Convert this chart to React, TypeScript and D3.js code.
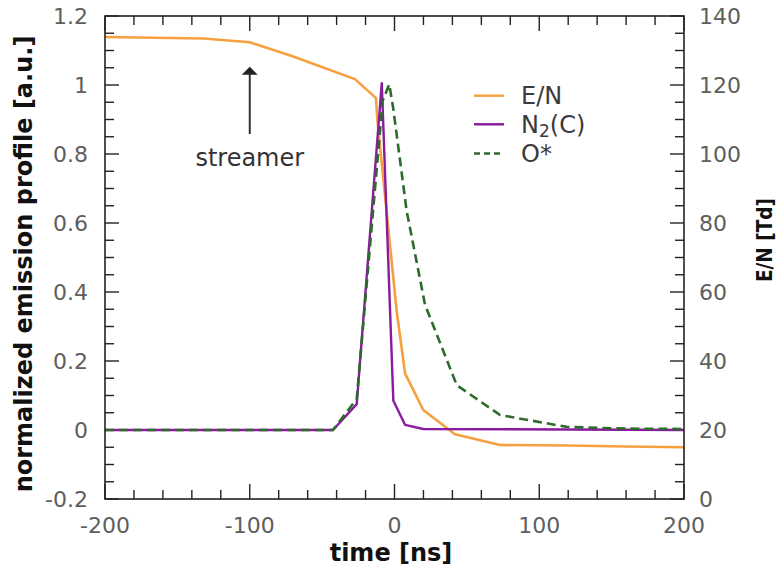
import * as d3 from 'd3';
import * as React from 'react';

// E/N (right axis, Td)
const timeEN = [-200, -132, -100, -71, -27.3, -12.8, -11.9, 1.5, 7.3, 19.9, 41.8, 72.9, 119, 160, 200];
const valEN = [133.9, 133.5, 132.4, 128.4, 121.7, 116.2, 110.1, 54.5, 36.4, 25.8, 18.75, 15.65, 15.5, 15.2, 15.0];

// N2(C) (left axis, normalized)
const timeN2 = [-200, -42.5, -26.1, -8.8, -0.8, 7.3, 19.9, 200];
const valN2 = [0, 0, 0.075, 1.005, 0.085, 0.015, 0.003, 0];

// O* (left axis, normalized)
const timeO = [-200, -42.5, -26.1, -8.2, -3.6, -0.8, 8.4, 21.1, 43, 72.9, 119, 160, 200];
const valO = [0, 0, 0.09, 0.954, 1.002, 0.93, 0.635, 0.363, 0.13, 0.0435, 0.009, 0.004, 0.003];

const xTicks = d3.range(-10, 11).map((i) => i * 20);
const leftTicks = d3.range(-4, 25).map((i) => +(i * 0.05).toFixed(2));
const rightTicks = d3.range(0, 29).map((i) => i * 5);

const legendItems = ['E/N', 'N2(C)', 'O*'];

const W = 778;
const H = 570;
const margin = { top: 16, right: 94, bottom: 71, left: 105 };

const ORANGE = '#f6a03e';
const PURPLE = '#8a1a9e';
const GREEN = '#2e6a2e';
const TICK_FONT = '"DejaVu Sans", sans-serif';

const App = () => {
  const x = d3.scaleLinear().domain([-200, 200]).range([margin.left, W - margin.right]);
  const yL = d3.scaleLinear().domain([-0.2, 1.2]).range([H - margin.bottom, margin.top]);
  const yR = d3.scaleLinear().domain([0, 140]).range([H - margin.bottom, margin.top]);

  const x0 = margin.left;
  const x1 = W - margin.right;
  const y0 = H - margin.bottom;
  const y1 = margin.top;

  const lineEN = d3.line<number>().x((d, i) => x(timeEN[i])).y((d) => yR(d));
  const lineN2 = d3.line<number>().x((d, i) => x(timeN2[i])).y((d) => yL(d));
  const lineO = d3.line<number>().x((d, i) => x(timeO[i])).y((d) => yL(d));

  // streamer arrow, in data coords
  const arrowX = x(-100);
  const arrowBase = yL(0.858);
  const arrowTip = yL(1.053);

  const legendY = [95.7, 124.3, 153.5];
  const legendColors = [ORANGE, PURPLE, GREEN];

  return (
    <svg width={W} height={H} style={{ position: 'absolute', left: 0, top: 0, background: '#fff' }}>
      <rect x={0} y={0} width={W} height={H} fill="#fff" />

      {/* ticks */}
      <g stroke="#222" strokeWidth={1.4}>
        {xTicks.map((t) => {
          const len = t % 100 === 0 ? 15 : 9;
          return (
            <g key={'x' + t}>
              <line x1={x(t)} x2={x(t)} y1={y0} y2={y0 - len} />
              <line x1={x(t)} x2={x(t)} y1={y1} y2={y1 + len} />
            </g>
          );
        })}
        {leftTicks.map((v, i) => {
          const len = i % 4 === 0 ? 14 : 9;
          return <line key={'l' + i} x1={x0} x2={x0 + len} y1={yL(v)} y2={yL(v)} />;
        })}
        {rightTicks.map((v) => {
          const len = v % 20 === 0 ? 14 : 9;
          return <line key={'r' + v} x1={x1} x2={x1 - len} y1={yR(v)} y2={yR(v)} />;
        })}
      </g>

      {/* data */}
      <path d={lineEN(valEN) || ''} fill="none" stroke={ORANGE} strokeWidth={2.6} strokeLinejoin="round" />
      <path d={lineN2(valN2) || ''} fill="none" stroke={PURPLE} strokeWidth={2.4} strokeLinejoin="round" />
      <path d={lineO(valO) || ''} fill="none" stroke={GREEN} strokeWidth={2.6} strokeDasharray="9,5" strokeLinejoin="round" />

      {/* frame */}
      <rect x={x0} y={y1} width={x1 - x0} height={y0 - y1} fill="none" stroke="#222" strokeWidth={1.6} />

      {/* tick labels */}
      <g fontFamily={TICK_FONT} fontSize={22} fill="#5e5e5e">
        {xTicks.filter((t) => t % 100 === 0).map((t) => (
          <text key={'xl' + t} x={x(t)} y={533} textAnchor="middle">
            {String(t)}
          </text>
        ))}
        {leftTicks.filter((v, i) => i % 4 === 0).map((v) => (
          <text key={'ll' + v} x={88} y={yL(v)} dy="0.36em" textAnchor="end">
            {String(+v.toFixed(1))}
          </text>
        ))}
        {rightTicks.filter((v) => v % 20 === 0).map((v) => (
          <text key={'rl' + v} x={699} y={yR(v)} dy="0.36em" textAnchor="start">
            {String(v)}
          </text>
        ))}
      </g>

      {/* axis titles */}
      <g fontFamily='"DejaVu Sans", sans-serif' fontWeight="bold" fill="#111">
        <text x={391} y={561} fontSize={24} textAnchor="middle">
          time [ns]
        </text>
        <text transform="translate(32,264) rotate(-90)" fontSize={24} textAnchor="middle">
          normalized emission profile [a.u.]
        </text>
        <text transform="translate(772,240) rotate(-90)" fontSize={22} textAnchor="middle" textLength={84} lengthAdjust="spacingAndGlyphs">
          E/N [Td]
        </text>
      </g>

      {/* streamer annotation */}
      <line x1={arrowX} x2={arrowX} y1={arrowBase} y2={arrowTip + 7} stroke="#333" strokeWidth={2} />
      <path d={`M${arrowX},${arrowTip} L${arrowX - 8},${arrowTip + 8} L${arrowX + 8},${arrowTip + 8} Z`} fill="#222" />
      <text x={arrowX} y={yL(0.765)} textAnchor="middle" fontFamily={TICK_FONT} fontSize={24} fill="#333">
        streamer
      </text>

      {/* legend */}
      <g fontFamily={TICK_FONT} fontSize={24} fill="#3a3a3a">
        {legendItems.map((name, i) => (
          <g key={name}>
            <line
              x1={474}
              x2={504}
              y1={legendY[i]}
              y2={legendY[i]}
              stroke={legendColors[i]}
              strokeWidth={2.4}
              strokeDasharray={i === 2 ? '6,4' : undefined}
            />
            <text x={521} y={legendY[i]} dy="0.36em">
              {name === 'N2(C)' ? (
                <>
                  N<tspan fontSize={17} dy="4">2</tspan>
                  <tspan dy="-4">(C)</tspan>
                </>
              ) : (
                name
              )}
            </text>
          </g>
        ))}
      </g>
    </svg>
  );
};

export default App;
